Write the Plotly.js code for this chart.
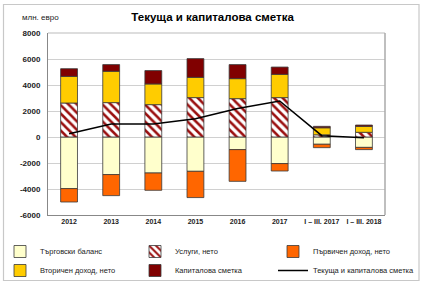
<!DOCTYPE html>
<html>
<head>
<meta charset="utf-8">
<script src="https://cdn.plot.ly/plotly-3.0.1.min.js"></script>
<style>
  html, body { margin: 0; padding: 0; background: #fff; }
  #chart { width: 421px; height: 284px; }
</style>
</head>
<body>
<div id="chart"></div>
<script>
// Periods on the category axis
const periods = ["2012", "2013", "2014", "2015", "2016", "2017", "I – III. 2017", "I – III. 2018"];

// Components, million euro
const tradeBalance   = [-3970, -2890, -2770, -2640, -970, -2045, -560, -800];
const servicesNet    = [2615, 2645, 2490, 3030, 2950, 3030, 170, 360];
const primaryIncome  = [-1030, -1620, -1330, -2020, -2440, -570, -260, -170];
const secondaryIncome = [2050, 2410, 1590, 1560, 1540, 1790, 540, 460];
const capitalAccount = [590, 515, 1030, 1440, 1080, 560, 110, 100];
// Current and capital account balance
const currentAndCapital = [250, 1000, 1000, 1400, 2200, 2770, 100, -50];

const seriesNames = [
  "Търговски баланс",
  "Услуги, нето",
  "Първичен доход, нето",
  "Вторичен доход, нето",
  "Капиталова сметка",
  "Текуща и капиталова сметка"
];

const yTicks = [-6000, -4000, -2000, 0, 2000, 4000, 6000, 8000];

const FONT = "'Liberation Sans', Arial, sans-serif";
const outline = { color: "#3a3a3a", width: 0.8 };

// Legend is laid out as three columns of two entries each
function barTrace(name, values, marker, legendId) {
  return {
    type: "bar",
    name: name,
    legend: legendId,
    x: periods,
    y: values,
    marker: Object.assign({ line: outline }, marker),
    hoverinfo: "x+y+name"
  };
}

const traces = [
  barTrace(seriesNames[0], tradeBalance, { color: "#FFFFCC" }, "legend"),
  barTrace(seriesNames[1], servicesNet, {
    color: "#FFFFFF",
    pattern: { shape: "\\", fgcolor: "#9B1010", bgcolor: "#FFFFFF", size: 6, solidity: 0.42 }
  }, "legend2"),
  barTrace(seriesNames[2], primaryIncome, { color: "#FF6600" }, "legend3"),
  barTrace(seriesNames[3], secondaryIncome, { color: "#FFCC00" }, "legend"),
  barTrace(seriesNames[4], capitalAccount, { color: "#800000" }, "legend2"),
  {
    type: "scatter",
    mode: "lines",
    name: seriesNames[5],
    legend: "legend3",
    x: periods,
    y: currentAndCapital,
    line: { color: "#000000", width: 1.5 }
  }
];

// Plot area spans x 48..385 and y 33..215 (px)
const L = 48, R = 385, T = 33, B = 215, W = 421, H = 284;
const px = v => (v - L) / (R - L);
const py = v => (B - v) / (B - T);

function legendColumn(leftPx) {
  return {
    orientation: "v",
    xref: "container", yref: "container",
    x: leftPx / W, xanchor: "left",
    y: 1 - 237 / H, yanchor: "top",
    traceorder: "normal",
    font: { family: FONT, size: 7.5, color: "#222" },
    bgcolor: "rgba(0,0,0,0)",
    itemclick: false,
    itemdoubleclick: false
  };
}

const layout = {
  width: W,
  height: H,
  margin: { l: L, r: W - R, t: T, b: H - B, pad: 0, autoexpand: false },
  paper_bgcolor: "#FFFFFF",
  plot_bgcolor: "#FFFFFF",
  font: { family: FONT, color: "#222", size: 8 },
  barmode: "relative",
  bargap: 0.6,
  showlegend: true,
  title: {
    text: "Текуща и капиталова сметка",
    font: { family: FONT, size: 11.5, color: "#000", weight: "bold" },
    xref: "container", x: 0.505, xanchor: "center",
    yref: "container", y: 1 - 17 / H, yanchor: "middle"
  },
  xaxis: {
    type: "category",
    showgrid: false,
    zeroline: false,
    showline: true,
    linecolor: "#888",
    linewidth: 1,
    ticks: "",
    tickfont: { family: FONT, size: 7, color: "#222", weight: "bold" },
    fixedrange: true
  },
  yaxis: {
    range: [-6000, 8000],
    tickvals: yTicks,
    ticktext: yTicks.map(String),
    showgrid: true,
    gridcolor: "#D0D0D0",
    gridwidth: 1,
    zeroline: false,
    showline: true,
    linecolor: "#888",
    linewidth: 1,
    ticks: "",
    ticklabelstandoff: 5,
    tickfont: { family: FONT, size: 8, color: "#222", weight: "bold" },
    fixedrange: true
  },
  legend: legendColumn(0),
  legend2: legendColumn(135),
  legend3: legendColumn(273),
  annotations: [
    {
      text: "млн. евро",
      xref: "paper", yref: "paper",
      x: px(20), y: py(17),
      xanchor: "left", yanchor: "middle",
      showarrow: false,
      font: { family: FONT, size: 8, color: "#222" }
    }
  ],
  shapes: [
    // frame around the plot area (top and right edges)
    { type: "line", xref: "paper", yref: "paper", x0: 0, x1: 1, y0: 1, y1: 1,
      line: { color: "#BBBBBB", width: 1 } },
    { type: "line", xref: "paper", yref: "paper", x0: 1, x1: 1, y0: 0, y1: 1,
      line: { color: "#AAAAAA", width: 1.5 } },
    // outer chart border
    { type: "rect", xref: "paper", yref: "paper",
      x0: px(3.5), x1: px(419), y0: py(280.5), y1: py(4.5),
      line: { color: "#C8C8C8", width: 1.2 }, fillcolor: "rgba(0,0,0,0)", layer: "below" }
  ]
};

Plotly.newPlot("chart", traces, layout, { staticPlot: true, displayModeBar: false });
</script>
</body>
</html>
